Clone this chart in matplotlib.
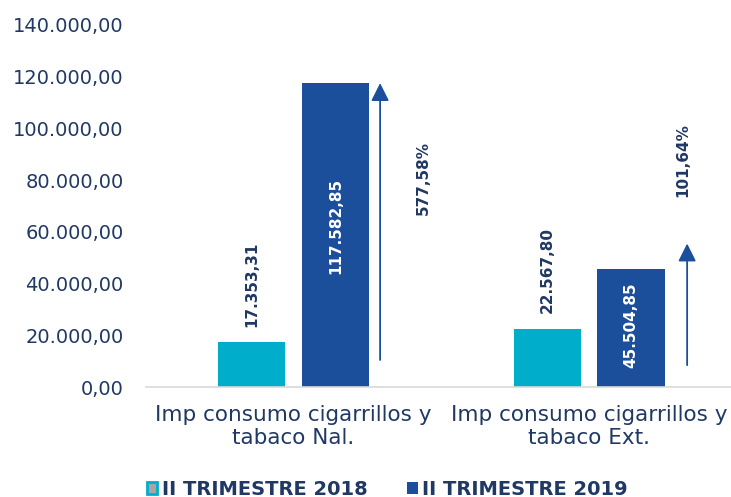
import numpy as np
import matplotlib.pyplot as plt

categorias = ["Imp consumo cigarrillos y\ntabaco Nal.", "Imp consumo cigarrillos y\ntabaco Ext."]
valores_2018 = [17353.31, 22567.80]
valores_2019 = [117582.85, 45504.85]
variacion = ["577,58%", "101,64%"]
series = ["II TRIMESTRE 2018", "II TRIMESTRE 2019"]
ticks_y = [0, 20000, 40000, 60000, 80000, 100000, 120000, 140000]

azul_claro = "#00AECB"
azul_osc = "#1B4F9C"
texto = "#1F3864"


def fmt(v):
    # formato es: 117.582,85
    s = f"{v:,.2f}"
    return s.replace(",", "X").replace(".", ",").replace("X", ".")


fig = plt.figure(figsize=(7.31, 4.97), dpi=100)
ax = fig.add_axes([0.1994, 0.221, 0.8085, 0.729])

x = np.arange(len(categorias))
w = 0.227
off = 0.142
b1 = ax.bar(x - off, valores_2018, w, color=azul_claro, label=series[0])
b2 = ax.bar(x + off, valores_2019, w, color=azul_osc, label=series[1])

# etiquetas de valor
for i in range(len(categorias)):
    ax.text(x[i] - off, valores_2018[i] + 6000, fmt(valores_2018[i]), rotation=90,
            ha="center", va="bottom", fontsize=11, fontweight="bold", color=texto)
    ax.text(x[i] + off, valores_2019[i] * 0.53, fmt(valores_2019[i]), rotation=90,
            ha="center", va="center", fontsize=11, fontweight="bold", color="white")

# flechas de variacion
flechas_dx = [0.293, 0.332]
flechas_y0 = [10500, 8500]
flechas_y1 = [117500, 55500]
pct_dx = [0.438, 0.318]
pct_y = [81000, 87800]
for i in range(len(categorias)):
    ax.annotate("", xy=(x[i] + flechas_dx[i], flechas_y1[i]), xytext=(x[i] + flechas_dx[i], flechas_y0[i]),
                arrowprops=dict(arrowstyle="-|>,head_length=1.08,head_width=0.54", color=azul_osc, lw=1.3,
                                shrinkA=0, shrinkB=0))
    ax.text(x[i] + pct_dx[i], pct_y[i], variacion[i], rotation=90,
            ha="center", va="center", fontsize=11, fontweight="bold", color=texto)

ax.set_xlim(-0.5, 1.5)
ax.set_ylim(0, 140000)
ax.set_yticks(ticks_y)
ax.set_yticklabels([fmt(t) for t in ticks_y], fontsize=14, color=texto)
ax.set_xticks(x)
ax.set_xticklabels(categorias, fontsize=15.5, color=texto)
ax.tick_params(axis="y", length=0, pad=16)
ax.tick_params(axis="x", length=0, pad=13)

for s in ["top", "right", "left"]:
    ax.spines[s].set_visible(False)
ax.spines["bottom"].set_color("#D9D9D9")
ax.spines["bottom"].set_linewidth(1.2)

leg = fig.legend(handles=[b1, b2], labels=series, loc="center", bbox_to_anchor=(0.53, 0.016),
                 ncol=2, frameon=False, handlelength=0.55, handleheight=0.55, handletextpad=0.25,
                 columnspacing=2.0, prop={"weight": "bold", "size": 14}, borderpad=0)
for t in leg.get_texts():
    t.set_color(texto)
leg.legend_handles[0].set_facecolor("#A6A6A6")
leg.legend_handles[0].set_edgecolor(azul_claro)
leg.legend_handles[0].set_linewidth(2)

fig.savefig("out.png", dpi=100)
